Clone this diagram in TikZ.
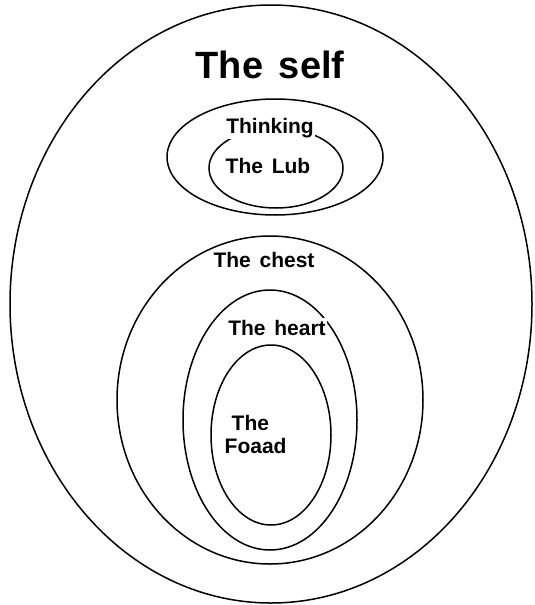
\documentclass[tikz,border=0pt]{standalone}
\usepackage{fontspec}
\setmainfont[WordSpace=1.5]{Liberation Sans}
\usetikzlibrary{positioning}

\tikzset{
  ring/.style={line width=1.5pt},
  ringlabel/.style={font=\bfseries\fontsize{21}{23}\selectfont, fill=white, inner sep=1.5pt, anchor=base},
}

\begin{document}
\begin{tikzpicture}[x=1pt,y=-1pt]
\useasboundingbox (0,0) rectangle (535,605);
% the rings
\draw[ring] (271,304) ellipse [x radius=261pt, y radius=299pt];
\draw[ring] (275,157) ellipse [x radius=108pt, y radius=58pt];
\draw[ring] (276,168) ellipse [x radius=67pt, y radius=40pt];
\draw[ring] (270,400) ellipse [x radius=153pt, y radius=164pt];
\draw[ring] (270,420) ellipse [x radius=87pt, y radius=130pt];
\draw[ring] (271,435) ellipse [x radius=60pt, y radius=90pt];
% the labels
\node[ringlabel, font=\bfseries\fontsize{38}{44}\selectfont] (self) at (270,78) {The self};
\node[ringlabel] (thinking) at (270,133) {Thinking};
\node[ringlabel] (lub) at (268,173) {The Lub};
\node[ringlabel] (chest) at (264,267) {The chest};
\node[ringlabel] (heart) at (277,335) {The heart};
\node[ringlabel, align=left, anchor=north west] (foaad) at (223,414) {\hspace*{7pt}The\\Foaad};
\end{tikzpicture}
\end{document}
